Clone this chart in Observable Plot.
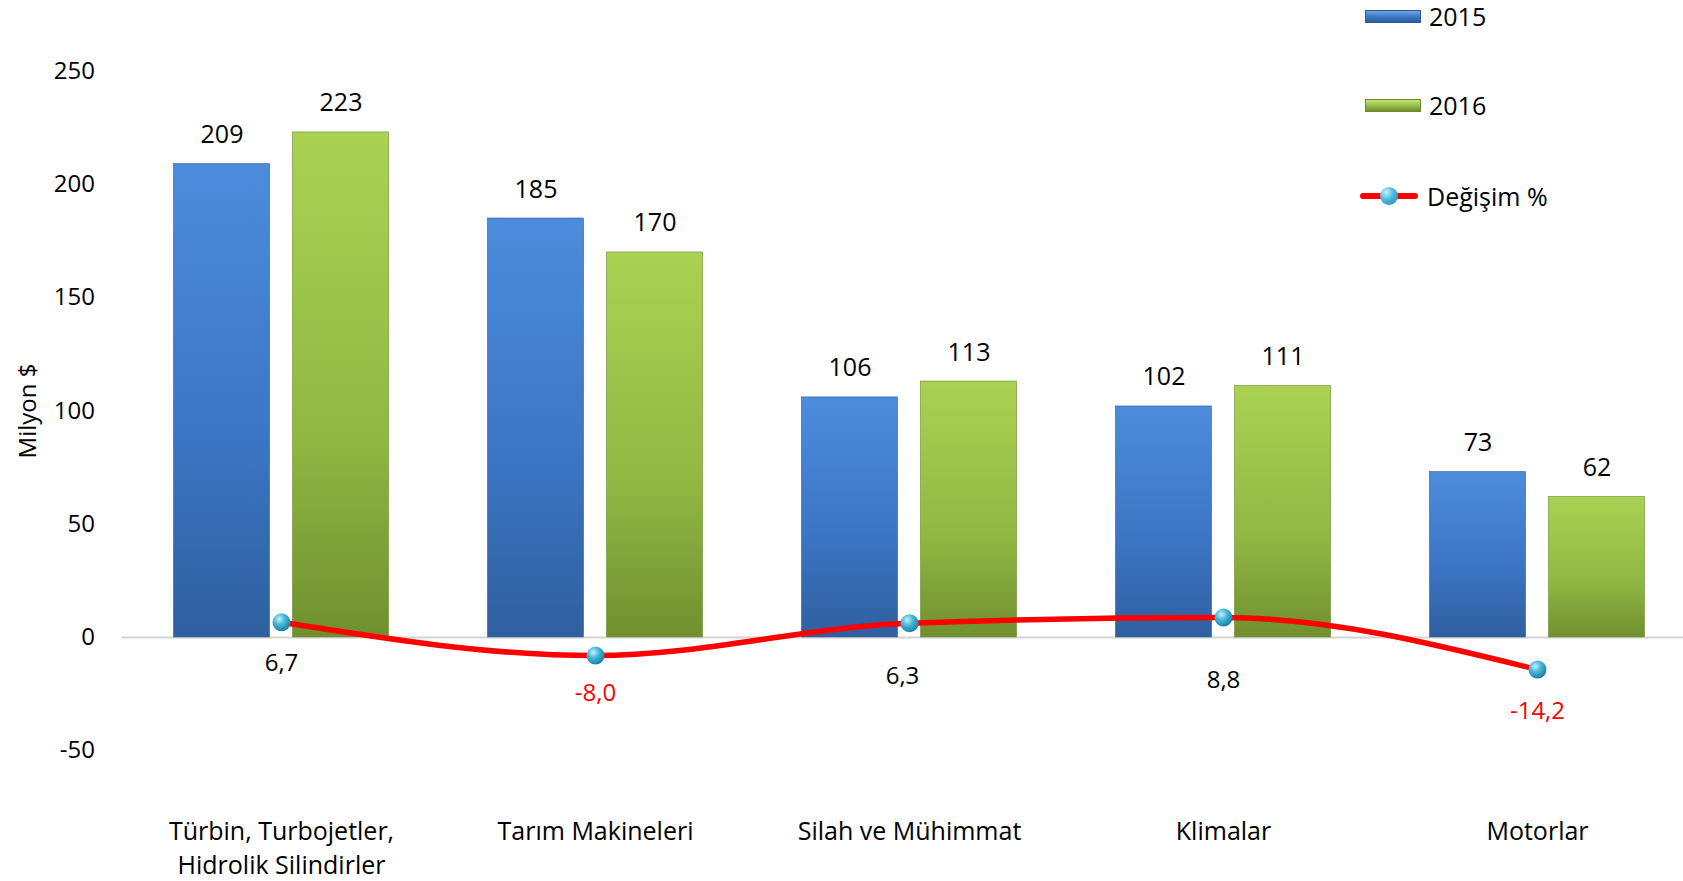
<!DOCTYPE html>
<html>
<head>
<meta charset="utf-8">
<script src="https://cdn.jsdelivr.net/npm/d3@7"></script>
<script src="https://cdn.jsdelivr.net/npm/@observablehq/plot@0.6"></script>
<style>
  body { margin: 0; background: #fff; }
  #wrap { position: relative; width: 1683px; height: 881px; overflow: hidden; font-family: "Open Sans", sans-serif; }
  .lg-item { position: absolute; left: 1358px; height: 30px; display: flex; align-items: center; font-size: 25px; color: #000; }
  .lg-sw { width: 54px; height: 11px; margin-left: 7px; margin-right: 8px; }
  .lg-line { position: relative; width: 62px; height: 30px; margin-right: 7px; }
  .lg-line .ln { position: absolute; left: 2px; right: 2px; top: 12px; height: 6px; background: #ff0000; border-radius: 3px; }
  .lg-line .dt { position: absolute; left: 22px; top: 6px; width: 18px; height: 18px; border-radius: 50%;
    background: radial-gradient(circle at 35% 30%, #c8f0fa 0%, #45b8d8 45%, #1c86a8 100%); }
</style>
</head>
<body>
<div id="wrap"></div>
<script>
// ---- data ----
const categories = ["Türbin, Turbojetler,\nHidrolik Silindirler", "Tarım Makineleri", "Silah ve Mühimmat", "Klimalar", "Motorlar"];
const seriesNames = ["2015", "2016", "Değişim %"];
const values2015 = [209, 185, 106, 102, 73];
const values2016 = [223, 170, 113, 111, 62];
const changePct = [6.7, -8.0, 6.3, 8.8, -14.2];
const yTicks = [-50, 0, 50, 100, 150, 200, 250];
const yLabel = "Milyon $";

// ---- style config (label placement below the % markers) ----
const changeLabelDy = [41, 38, 53, 63, 42];
const changeLabelDx = [0, 0, -7, 0, 0];

// ---- tables ----
const d2015 = categories.map((c, i) => ({cat: c, v: values2015[i]}));
const d2016 = categories.map((c, i) => ({cat: c, v: values2016[i]}));
const dChg = categories.map((c, i) => ({cat: c, v: changePct[i], i}));
const fmtComma = v => v.toFixed(1).replace(".", ",");

const barOffset = 59.5;
const barInset = 109;

const chart = Plot.plot({
  width: 1683,
  height: 881,
  marginTop: 70.8,
  marginBottom: 130.8,
  marginLeft: 121.5,
  marginRight: -13,
  style: {fontFamily: "'Open Sans', sans-serif", fontSize: "24px", color: "#000", background: "#fff", overflow: "visible"},
  x: {domain: categories, padding: 0},
  y: {domain: [-50, 250], ticks: yTicks},
  marks: [
    Plot.axisY({ticks: yTicks, tickFormat: d => String(d), tickSize: 0, tickPadding: 27, label: yLabel, labelAnchor: "center", labelOffset: 103, labelArrow: "none", fontSize: 24}),
    Plot.axisX({tickSize: 0, tickPadding: 65, label: null, lineHeight: 1.36, fontSize: 25, letterSpacing: "0.3px"}),
    Plot.ruleY([0], {stroke: "#d4d4d4", strokeWidth: 2}),
    Plot.barY(d2015, {x: "cat", y: "v", dx: -barOffset, insetLeft: barInset, insetRight: barInset, fill: "url(#gBlue)", stroke: "#2c5a95", strokeWidth: 0.6}),
    Plot.barY(d2016, {x: "cat", y: "v", dx: barOffset, insetLeft: barInset, insetRight: barInset, fill: "url(#gGreen)", stroke: "#6c8a2a", strokeWidth: 0.6}),
    Plot.text(d2015, {x: "cat", y: "v", text: d => String(d.v), dx: -barOffset, dy: -29, fill: "#000", fontSize: 25}),
    Plot.text(d2016, {x: "cat", y: "v", text: d => String(d.v), dx: barOffset, dy: -29, fill: "#000", fontSize: 25}),
    Plot.lineY(dChg, {x: "cat", y: "v", stroke: "#ff0000", strokeWidth: 5.5, curve: "monotone-x"}),
    Plot.dot(dChg, {x: "cat", y: "v", r: 9, fill: "url(#gDot)", stroke: "none"}),
    ...dChg.map(d => Plot.text([d], {x: "cat", y: "v", text: d => fmtComma(d.v), dx: changeLabelDx[d.i], dy: changeLabelDy[d.i], fill: d.v < 0 ? "#ff0000" : "#000000", fontSize: 24}))
  ]
});

// gradient definitions
const defs = d3.select(chart).insert("defs", ":first-child");
const gb = defs.append("linearGradient").attr("id", "gBlue").attr("x1", 0).attr("y1", 0).attr("x2", 0).attr("y2", 1);
gb.append("stop").attr("offset", "0%").attr("stop-color", "#4d8cdc");
gb.append("stop").attr("offset", "60%").attr("stop-color", "#3b74c2");
gb.append("stop").attr("offset", "100%").attr("stop-color", "#2f5f9e");
const gg = defs.append("linearGradient").attr("id", "gGreen").attr("x1", 0).attr("y1", 0).attr("x2", 0).attr("y2", 1);
gg.append("stop").attr("offset", "0%").attr("stop-color", "#a9d253");
gg.append("stop").attr("offset", "60%").attr("stop-color", "#90b843");
gg.append("stop").attr("offset", "100%").attr("stop-color", "#718f30");
const gd = defs.append("radialGradient").attr("id", "gDot").attr("cx", "0.38").attr("cy", "0.32").attr("r", "0.7");
gd.append("stop").attr("offset", "0%").attr("stop-color", "#c8f0fa");
gd.append("stop").attr("offset", "45%").attr("stop-color", "#45b8d8");
gd.append("stop").attr("offset", "100%").attr("stop-color", "#1a7fa0");

const wrap = document.getElementById("wrap");
wrap.appendChild(chart);

// legend (HTML overlay, top right)
const legendTops = [1, 90, 181];
seriesNames.forEach((name, i) => {
  const item = document.createElement("div");
  item.className = "lg-item";
  item.style.top = legendTops[i] + "px";
  if (i < 2) {
    const sw = document.createElement("div");
    sw.className = "lg-sw";
    sw.style.background = i === 0
      ? "linear-gradient(#6fa5e6, #3b74c2 55%, #2f5f9e)"
      : "linear-gradient(#c5e47a, #93bb45 55%, #6f8d2e)";
    sw.style.border = i === 0 ? "1px solid #2c5a95" : "1px solid #6c8a2a";
    item.appendChild(sw);
  } else {
    const ln = document.createElement("div");
    ln.className = "lg-line";
    ln.innerHTML = '<div class="ln"></div><div class="dt"></div>';
    item.appendChild(ln);
  }
  const t = document.createElement("span");
  t.textContent = name;
  item.appendChild(t);
  wrap.appendChild(item);
});
</script>
</body>
</html>
